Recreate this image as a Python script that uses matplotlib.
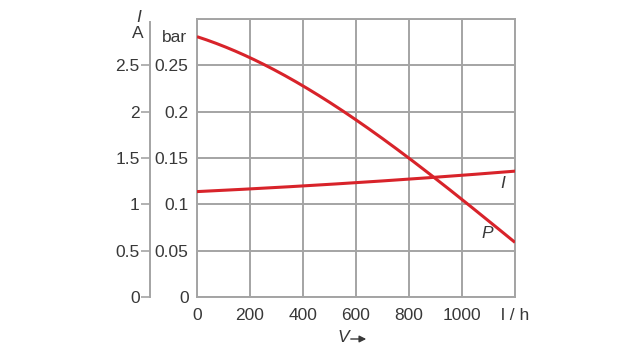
import numpy as np
import matplotlib.pyplot as plt
from matplotlib.ticker import FuncFormatter

flow = [0, 200, 400, 600, 800, 1000, 1200]
pressure = [0.281, 0.258, 0.228, 0.191, 0.150, 0.105, 0.059]
current = [1.14, 1.16, 1.20, 1.24, 1.27, 1.31, 1.36]

p_ticks = [0, 0.05, 0.1, 0.15, 0.2, 0.25]
i_ticks = [0, 0.5, 1, 1.5, 2, 2.5]
x_ticks = [0, 200, 400, 600, 800, 1000, 1200]
x_labels = ['0', '200', '400', '600', '800', '1000', 'l / h']

red = '#d8232a'
grey = '#a4a4a4'
txt = '#383838'
fs = 12.5

plt.rcParams['font.family'] = ['Liberation Sans', 'DejaVu Sans']
plt.rcParams['font.size'] = fs

fig = plt.figure(figsize=(6.4, 3.6), dpi=100)
ax = fig.add_axes([197/640, 1 - 297/360, 318/640, 278/360])

# smooth curves through the read points
xs = np.linspace(0, 1200, 200)
pp = np.polyfit(flow, pressure, 3)
ax.plot(xs, np.polyval(pp, xs), color=red, lw=2.2, solid_capstyle='butt', zorder=3)

ax.set_xlim(0, 1200)
ax.set_ylim(0, 0.3)
ax.set_xticks(x_ticks)
ax.set_xticklabels(x_labels)
ax.set_yticks(p_ticks)
ax.yaxis.set_major_formatter(FuncFormatter(lambda v, _: '0' if v == 0 else f'{v:g}'))
ax.set_yticks([0.3], minor=True)
ax.grid(True, color=grey, lw=1.4)
ax.grid(True, which='minor', color=grey, lw=1.4)
ax.tick_params(length=0, colors=txt, labelsize=fs)
ax.tick_params(axis='y', pad=6)
ax.tick_params(axis='x', pad=8)
ax.tick_params(which='minor', length=0, labelleft=False)
for s in ax.spines.values():
    s.set_color(grey)
    s.set_linewidth(1.4)

# current axis on the far left
ax2 = ax.twinx()
ax2.set_ylim(0, 3)
ci = np.polyfit(flow, current, 2)
ax2.plot(xs, np.polyval(ci, xs), color=red, lw=2.2, zorder=3)
ax2.yaxis.set_ticks_position('left')
ax2.yaxis.set_label_position('left')
ax2.spines['left'].set_position(('outward', 47 * 0.72))
for k in ['right', 'top', 'bottom']:
    ax2.spines[k].set_visible(False)
ax2.spines['left'].set_color(grey)
ax2.spines['left'].set_linewidth(1.4)
ax2.spines['left'].set_bounds(0, 2.97)
ax2.set_yticks(i_ticks)
ax2.yaxis.set_major_formatter(FuncFormatter(lambda v, _: f'{v:g}'))
ax2.tick_params(axis='y', length=6.5, width=1.2, color=grey, labelcolor=txt, labelsize=fs, pad=1)

fig.text(174/640, 1 - 37/360, 'bar', color=txt, fontsize=fs, ha='center', va='center')
fig.text(139/640, 1 - 18/360, 'I', color=txt, fontsize=fs, ha='center', va='center', style='italic')
fig.text(138/640, 1 - 33/360, 'A', color=txt, fontsize=fs, ha='center', va='center')

ax.text(1155, 0.122, 'I', color=txt, fontsize=fs, style='italic', ha='center', va='center')
ax.text(1094, 0.069, 'P', color=txt, fontsize=fs, style='italic', ha='center', va='center')

fig.text(343/640, 1 - 338/360, 'V', color=txt, fontsize=fs, style='italic', ha='center', va='center')
fig.add_artist(plt.Annotation('', xy=(369/640, 1 - 339/360), xytext=(348/640, 1 - 339/360),
                              xycoords='figure fraction',
                              arrowprops=dict(arrowstyle='-|>', color=txt, lw=1, mutation_scale=10)))

fig.savefig('out.png', dpi=100)
